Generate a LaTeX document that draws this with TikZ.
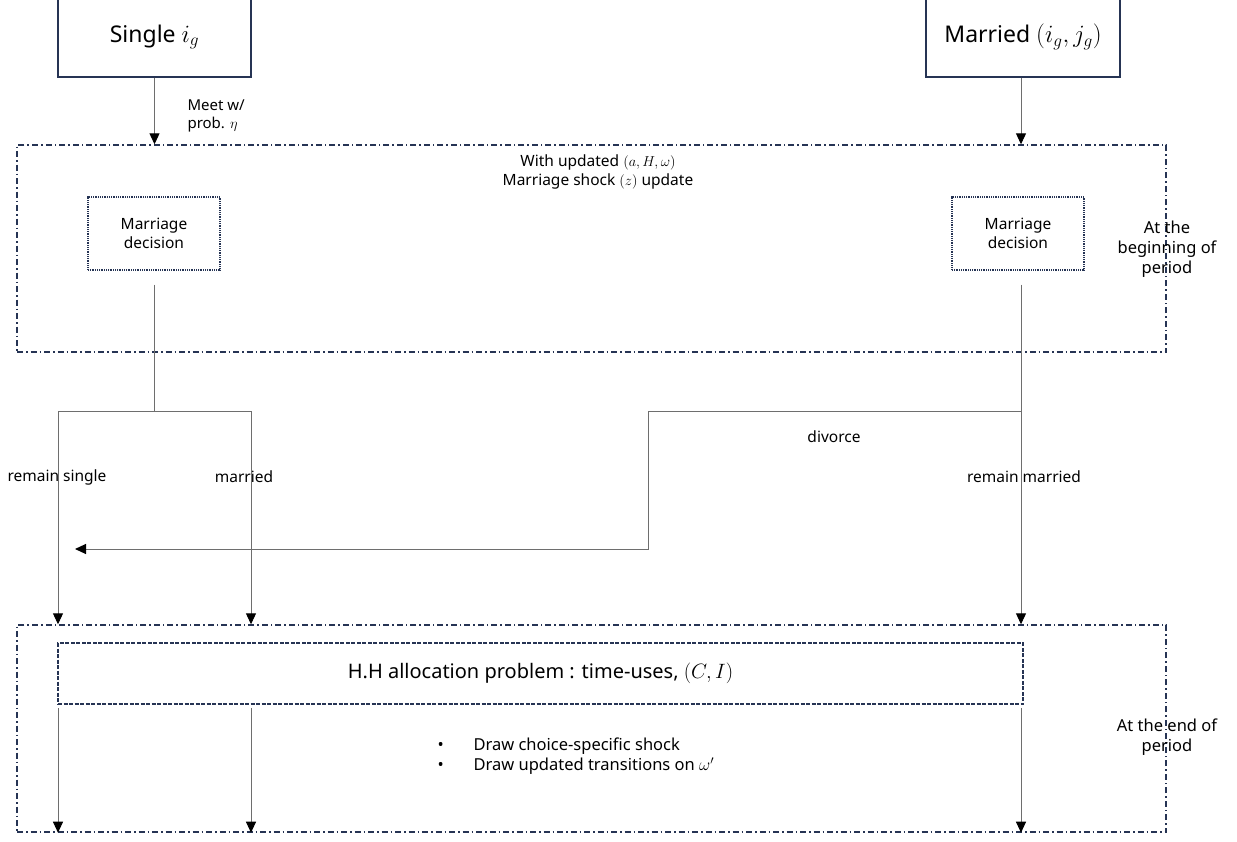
\documentclass[tikz,border=0pt]{standalone}
\usepackage{fontspec}
\setmainfont{Noto Sans}
\usetikzlibrary{arrows.meta}
\definecolor{framec}{RGB}{38,52,84}
\definecolor{linec}{RGB}{110,110,110}
\tikzset{
  big/.style={font=\fontsize{23}{28}\selectfont},
  med/.style={font=\fontsize{15.5}{19.5}\selectfont},
  sml/.style={font=\fontsize{15.5}{18.5}\selectfont},
  statebox/.style={draw=framec, line width=1.3pt, fill=white, inner sep=0pt},
  framebox/.style={draw=framec, line width=1.4pt, dash pattern=on 6pt off 3pt on 1.5pt off 3pt, inner sep=0pt},
  decbox/.style={draw=framec, line width=1.2pt, dash pattern=on 1pt off 0.8pt, inner sep=0pt, align=center, sml},
  hhbox/.style={draw=framec, line width=1.3pt, dash pattern=on 4pt off 1.5pt, inner sep=0pt},
  conn/.style={draw=linec, line width=1pt, arrows={-Triangle[length=11pt,width=10pt,fill=black,color=black]}},
  plain/.style={draw=linec, line width=1pt},
}
\begin{document}
\begin{tikzpicture}[x=1pt,y=-1pt]
\useasboundingbox (0,0) rectangle (1237,841);
\clip (0,0) rectangle (1237,841);
% top state boxes
\node[statebox, minimum width=193, minimum height=80, big] (single) at (154.5,37) {Single $i_g$};
\node[statebox, minimum width=194, minimum height=80, big] (married) at (1023,37) {Married $(i_g,j_g)$};
% frames
\node[framebox, minimum width=1149, minimum height=207] (upper) at (591.5,248.5) {};
\node[framebox, minimum width=1149, minimum height=207] (lower) at (591.5,728.5) {};
% header text in upper frame
\node[med, align=center] (hdr) at (598,172) {With updated $(a,H,\omega)$\\Marriage shock $(z)$ update};
% decision boxes
\node[decbox, minimum width=132, minimum height=73] (md1) at (154,233.5) {Marriage\\decision};
\node[decbox, minimum width=132, minimum height=73] (md2) at (1018,233.5) {Marriage\\decision};
% side labels
\node[font=\fontsize{16.5}{20}\selectfont, align=center] (beg) at (1167,249) {At the\\beginning of\\period};
\node[font=\fontsize{16.5}{20}\selectfont, align=center] (endl) at (1167,737.5) {At the end of\\period};
% arrows into upper frame
\draw[conn] (single.south) -- (single.south |- upper.north);
\node[font=\fontsize{15}{18}\selectfont, align=left, anchor=west] (meet) at (184,116) {Meet w/\\prob. $\eta$};
\draw[conn] ([xshift=-2pt]married.south) -- ([xshift=-2pt]married.south |- upper.north);
% branching coordinates
\coordinate (jl) at (154,411);
\coordinate (bl) at (58,411);
\coordinate (bm) at (251,411);
\coordinate (jr) at (1021,411);
\coordinate (dv1) at (648,411);
\coordinate (dv2) at (648,549);
\coordinate (dvend) at (75,549);
% left branch
\draw[plain] ([yshift=-14pt]md1.south) -- (jl);
\draw[plain] (bl) -- (bm);
\draw[conn] (bl) -- (bl |- lower.north);
\draw[conn] (bm) -- (bm |- lower.north);
% right branch
\draw[conn] ([xshift=3pt,yshift=-14pt]md2.south) -- (jr |- lower.north);
\draw[conn] (jr) -- (dv1) -- (dv2) -- (dvend);
% branch labels
\node[med] (lrs) at (57,477) {remain single};
\node[med] (lm) at (244,477) {married};
\node[med] (ldv) at (834,437) {divorce};
\node[med] (lrm) at (1024,477) {remain married};
% household box
\node[hhbox, minimum width=965, minimum height=61, font=\fontsize{20}{24}\selectfont] (hh) at (540.5,673.5) {H.H allocation problem : time-uses, $(C,I)$};
\coordinate (o1) at (58,708);
\coordinate (o2) at (251,708);
\coordinate (o3) at (1021,708);
\draw[conn] (o1) -- (o1 |- lower.south);
\draw[conn] (o2) -- (o2 |- lower.south);
\draw[conn] (o3) -- (o3 |- lower.south);
% bullets
\node[font=\fontsize{16.5}{20}\selectfont, align=left, anchor=west] (bul) at (434,756) {\makebox[36pt][l]{\textbullet}Draw choice-specific shock\\\makebox[36pt][l]{\textbullet}Draw updated transitions on $\omega'$};
\end{tikzpicture}
\end{document}
